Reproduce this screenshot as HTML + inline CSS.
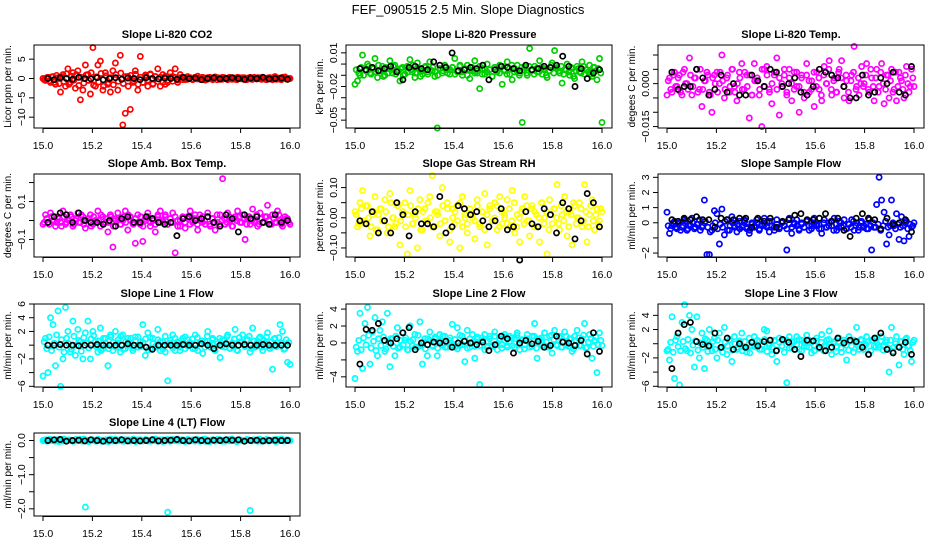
<!DOCTYPE html>
<html><head><meta charset="utf-8"><title>FEF_090515 Slope Diagnostics</title>
<style>
html,body{margin:0;padding:0;background:#fff;}
svg{display:block;font-family:"Liberation Sans",Arial,sans-serif;}
</style></head>
<body>
<svg id="chart" width="936" height="540" viewBox="0 0 936 540">
<text x="468" y="14" text-anchor="middle" font-size="13">FEF_090515  2.5 Min. Slope Diagnostics</text>
</svg>
<script>
// ---- data (some panels stored in scaled units) ----
const xTicks = [15.0, 15.2, 15.4, 15.6, 15.8, 16.0];
const xTickLabels = ["15.0","15.2","15.4","15.6","15.8","16.0"];

const co2Color = [0,-0.5,0.3,-1,0.5,-1.5,0.2,-3.5,1,-2, 2.5,-1,1.5,-2.5,2,-5.5,-3,3.5,1,-4, 8,-2,3.5,4.5,-3,1.5,-1.5,-3.5,2,4, -3,6,-12,-9,0.5,-8,-1,2,-3,5.7, -1,0.5,-2,1,-1.5,0.5,2.5,-2,1,-1.5, -1,1.5,0.5,2.5,-1,1,0.3,-0.3,0.5,0.2, -0.3,0.2,0.6,-0.2,0.3,-0.4,0.2,0.1,-0.3,0.4, 0.2,-0.2,0.3,0,-0.3,0.2,0.1,-0.2,0.3,0, 0.2,-0.3,0.1,0.3,-0.2,0,0.2,-0.1,0.3,-0.2, 0.1,0.2,-0.3,0.5,0,-0.2,0.3,0.4,-0.2,0];
const co2Core = [-0.3,0.2,-0.6,0.4,-1,0.8,-1.3,0.5,-0.8,1.2, -1.5,0.6,-0.4,1,-1.8,0.3,-1.2,0.9,-0.5,1.5, -1.7,0.4,-0.9,1.3,-2,0.7,-1.1,0.2,-1.6,1, -0.7,1.4,-1.3,0.5,-2,0.8,-0.6,1.1,-1.5,0.3, -1,0.9,-0.4,1.2,-1.3,0.5,-0.8,0.3,-1,0.6, -0.5,0.4,-0.7,0.3,-0.4,0.2,-0.3,0.2,-0.2,0.1, -0.2,0.3,-0.1,0.2,-0.3,0.1,-0.2,0.3,-0.1,0.2, -0.3,0.1,-0.2,0.2,-0.1,0.3,-0.2,0.1,-0.3,0.2, -0.1,0.2,-0.3,0.1,-0.2,0.3,-0.1,0.2,-0.2,0.1, -0.3,0.2,-0.1,0.3,-0.2,0.1,-0.3,0.2,-0.1,0];
const co2Black = [0,-0.3,0.2,0,-0.2,0.3,0,-0.1,0.2,-0.3, 0,0.2,-0.2,0.1,0,-0.3,0.2,0,-0.1,0.1, 0,-0.2,0.3,0,0.1,-0.3,0,0.2,-0.1,0, 0.2,0,-0.2,0.1,0,0.3,-0.1,0,0.1,-0.2];

// pressure in 1e-3 kPa per min
const presColor = [-18,-15,-10,8,-5,0,-8,-3,5,-12, -6,-2,-10,-4,3,-8,-1,-6,-15,-3, -9,-2,4,-7,-12,1,-5,-9,-3,-7, 2,-6,-11,-57,-4,-8,-1,-5,-9,-3, 5,-7,-2,-10,-5,-1,-13,-6,3,-8, -22,-4,-9,0,-5,-11,-3,-7,-1,-18, -6,2,-9,-14,-4,-1,-8,-52,-3,-10, 14,-5,-2,-7,3,-9,-4,-12,-6,1, 12,-3,-8,-17,-5,0,-10,-4,-13,-2, -7,2,-9,-5,-1,-11,-3,-14,5,-52];
const presCore = [-5,-8,-3,-10,-6,-2,-9,-4,-7,-1, -6,-11,-3,-8,-5,-2,-9,-6,-4,-10, -3,-7,-5,-1,-8,-4,-11,-6,-2,-9, -5,-3,-7,-10,-4,-6,-2,-8,-5,-3, -9,-6,-1,-7,-4,-10,-5,-3,-8,-6, -2,-9,-4,-7,-5,-11,-3,-6,-8,-2, -5,-9,-4,-1,-7,-6,-10,-3,-5,-8, -2,-6,-9,-4,-7,-3,-5,-10,-6,-1, -8,-4,-6,-2,-9,-5,-7,-3,-11,-6, -4,-8,-2,-5,-7,-9,-3,-6,-4,-8];
const presBlack = [-4,-5,-3,-6,-4,-2,-7,-14,-3,-2, -4,-5,2,-1,-3,10,-6,-5,-3,-4, -1,-14,-5,-2,-3,-4,-6,-1,-5,-4, -2,-3,-1,7,-2,-20,-4,-13,-8,-5];

// Li-820 temp in 1e-3 degC per min
const tempColor = [-4,2,-3,4,-1,3,-4,5,0,9, -4,2,5,-2,-8,1,4,-3,-10,3, 4,0,10,-5,2,-3,5,-1,-6,4, 7,-2,3,-12,-4,7,1,-4,-15,5, 6,-2,-7,3,9,-11,0,5,-4,2, -6,4,-1,-10,3,-5,7,-3,1,-8, 4,-2,-6,6,0,8,-4,2,-3,5, 8,-5,1,-6,3,13,-1,-4,6,0, 7,-3,2,-6,5,-1,7,-7,3,-5, 5,-2,-6,4,1,-5,6,-3,5,-1];
const tempCore = [1,-2,3,-1,2,-3,4,0,-2,3, -1,2,-3,5,-2,1,3,-4,2,0, -3,4,1,-2,3,-1,5,-3,0,2, -2,4,-1,3,-4,1,2,-2,5,-1, 3,-3,0,4,-2,2,-1,3,-3,5, 0,-2,4,-1,2,-3,3,1,-2,4, -1,2,-4,3,0,5,-2,1,-3,4, 2,-1,3,-3,1,4,-2,2,0,-1, 3,-2,5,-1,2,-3,4,0,-2,3, 1,-3,4,-1,2,-2,3,0,-1,2];
const tempBlack = [4,-2,-1,-1,5,2,-4,-2,3,-3, 0,-4,-4,3,1,-1,5,4,-1,0, 2,-3,-4,-1,5,4,3,2,-1,-5, -5,3,-4,-3,2,0,4,-3,-4,6];

// amb box temp in 1e-2 degC per min
const boxColor = [-2,3,-1,4,0,-3,2,-1,5,-2, 1,3,-3,0,4,-1,2,-4,1,3, -2,0,5,-3,2,-1,-6,3,-14,1, 4,-2,0,5,-5,2,-1,-12,3,-2, -11,1,4,-3,0,-6,2,5,-1,3, -2,1,4,-17,-3,0,2,-4,1,5, -1,3,-5,0,2,-2,4,-3,1,-5, -1,3,22,-2,4,0,-3,2,5,-1, 3,-10,1,-2,6,0,-3,4,-1,2, 8,-2,3,-1,5,0,-3,2,1,-2];
const boxCore = [-1,1,-2,2,0,-1,1,-3,2,-1, 0,2,-2,1,-1,3,-2,0,1,-3, 2,-1,0,3,-2,1,-1,2,-3,0, 1,-2,2,-1,3,0,-2,1,-1,2, -3,0,2,-1,1,-2,3,-1,0,2, -2,1,-1,2,0,-3,1,-1,2,-2, 0,1,-2,3,-1,0,2,-2,1,-1, 3,-2,0,1,-1,2,-3,1,0,2, -1,1,-2,2,0,-1,3,-2,1,-1, 2,0,-2,1,-1,3,-2,0,1,-1];
const boxBlack = [-1,2,4,3,-1,4,0,-1,-1,-2, 0,-3,1,2,-1,-1,2,1,-1,-2, -1,-8,1,2,0,1,2,-1,-3,3, 1,-6,3,1,2,-1,-2,3,-1,0];

// RH in 1e-2 percent per min
const rhColor = [2,-3,5,9,-2,4,-6,1,7,-4, 3,-1,6,-5,8,0,-3,4,-9,2, 5,-12,9,-2,1,-10,6,-4,3,-1, 7,14,-3,2,-6,10,-1,5,-8,3, -2,4,-10,7,0,-5,3,1,-7,6, -3,2,8,-9,4,-1,5,-4,7,-2, 0,6,-3,9,-5,1,-8,3,7,-1, -6,4,2,-3,-8,5,0,-12,6,-2, 3,11,-4,1,7,-6,2,-9,4,0, 5,-3,11,-8,1,6,-4,3,-1,2];
const rhCore = [1,-2,3,-1,4,0,-3,2,-4,1, 3,-1,2,-3,5,0,-2,4,-1,2, -3,1,4,-2,0,3,-4,2,-1,5, 0,-3,2,1,-2,4,-1,3,-4,0, 2,-1,5,-3,1,-2,3,0,-1,4, -2,2,-4,1,3,-1,0,4,-3,2, 1,-2,3,-1,5,-3,0,2,-2,4, -1,3,-3,1,0,5,-2,2,-4,1, 3,0,-2,4,-1,2,-3,1,5,-2, 0,3,-1,2,-3,4,-1,1,-2,3];
const rhBlack = [-1,-2,2,-5,-1,-5,5,1,-6,2, -2,-2,-3,7,-5,-3,4,3,1,2, -1,-3,-1,3,-4,-3,-14,2,-2,-3, 3,1,-5,5,3,-7,-1,8,5,-3];

const sampColor = [0.7,-0.7,-0.2,0.1,-0.4,0,-0.3,0.2,-0.5,-0.1, 0.3,-0.4,-0.1,0.2,-0.3,1.5,-2.1,-2.1,-0.5,0.8, 0.6,-1.4,0.9,-0.8,0.2,-0.5,0.4,-0.2,-0.6,0.1, -0.3,0.2,-0.4,-0.7,0,-0.3,0.2,-0.5,-0.1,0.3, -0.2,-0.6,0.1,-0.3,0.2,-0.4,0,-0.2,-1.8,0.3, -0.7,-0.1,0.2,-0.4,0,-0.3,0.1,-0.5,-0.2,0.3, -0.1,-0.4,-0.7,0.2,-0.3,0,-0.2,0.3,-0.5,0.1, -0.3,0.2,-0.4,-0.1,0.2,-0.5,0,-0.3,0.1,-0.2, -0.4,0.2,-1.8,-0.3,1.2,3,1.5,0.7,-1.4,-0.8, 1.5,-0.2,0.6,-1.1,0.4,-1.2,0.1,-0.9,-0.3,0];
const sampCore = [-0.2,-0.4,0,-0.3,-0.1,-0.5,-0.2,0.1,-0.4,-0.2, 0,-0.3,-0.1,-0.5,-0.2,0.1,-0.3,-0.6,-0.2,0, -0.4,-0.1,-0.3,0.1,-0.5,-0.2,0,-0.3,-0.1,-0.4, -0.2,0.1,-0.3,-0.5,-0.1,-0.2,0,-0.4,-0.2,-0.1, -0.3,0.1,-0.2,-0.5,-0.1,-0.3,0,-0.2,-0.4,-0.1, -0.3,0,-0.2,-0.5,-0.1,-0.3,0.1,-0.2,-0.4,0, -0.2,-0.1,-0.4,0,-0.3,-0.2,0.1,-0.5,-0.1,-0.3, 0,-0.2,-0.4,-0.1,-0.3,0.1,-0.2,-0.5,0,-0.3, -0.1,-0.4,-0.2,0,-0.3,-0.1,-0.5,-0.2,0.1,-0.3, -0.2,0,-0.4,-0.1,-0.3,-0.2,0,-0.4,-0.1,-0.2];
const sampBlack = [0.2,0.1,0.3,0.2,0.4,0.2,0.2,-0.3,0.3,0.2, 0.2,0.3,0.3,-0.3,0.3,0.1,0.3,-0.3,0.1,0.2, 0.5,0.6,0.2,0.2,0.3,0.6,0.1,0.3,-0.5,-0.9, 0.3,0.6,0.3,0.2,-0.4,0.3,-0.1,0,0.2,-0.6];

const l1Color = [-4.5,1,-4,4,3,-3,5,-6,-2,5.5, 2,-1,3.5,-1.5,2.3,0.5,-2,1.8,3.5,-2, 2,0.5,-1,2.5,-0.5,1,-3,1.5,-0.8,2, 0.3,-1,1.5,-0.5,1,0.3,-0.8,1.2,-0.3,0.5, 3,-1.5,1.8,-0.5,1,-0.2,2.3,-0.8,0.5,-1, -5.2,0.3,1.5,-0.8,0.5,-0.3,1,-0.5,0.8,0.2, -0.5,1.5,-0.8,0.3,-1.2,0.5,2,-0.3,1,-0.8, 0.2,-1.8,0.8,-0.3,1.5,-0.5,0.3,2.3,-0.8,0.5, 1.5,-0.2,0.8,-1,2.5,-0.3,0.5,1.2,-0.8,0.3, 1.8,-0.5,-3.5,1,0.3,3,2,-0.5,-2.5,-2.8];
const l1Core = [0.5,-0.5,1.2,-0.8,0.3,1.5,-0.3,0.8,-1,1, 0.2,-0.6,1.3,0,0.7,-0.9,1.1,0.3,-0.4,0.9, 1.4,-0.2,0.6,-0.8,1,0.2,-0.5,1.2,0.4,-0.3, 0.8,1.3,-0.6,0.5,0,1,-0.4,0.7,1.2,-0.2, 0.4,0.9,-0.7,1.1,0.2,-0.3,0.8,0.5,-0.6,1.3, 0.1,0.7,-0.4,1,0.3,-0.8,0.6,1.2,-0.1,0.4, 0.9,-0.5,1.1,0.2,0.6,-0.3,1.3,0,0.8,-0.6, 0.5,1,-0.2,0.7,1.2,-0.4,0.3,0.9,-0.7,1.1, 0.4,-0.1,0.8,1.3,-0.5,0.6,0.2,1,-0.3,0.7, 1.2,-0.4,0.5,0.9,-0.2,1.1,0.3,-0.6,0.8,0.4];
const l1Black = [0,0,0.1,0,0,-0.1,0,0,0.1,0, 0,0,0,0.2,0,0,-0.3,-0.6,0,0, 0,0,0.1,0,0,0.2,0,-0.5,0,0.2, 0,0,0.1,0,0,0.1,0,0,0,0];

const l2Color = [-4.2,-1,3.5,-3,2.3,4.2,-2.5,1.3,3,-1.5, 1.5,2.5,-1,3.5,-2.8,0.5,-1.5,1.8,-0.5,1.2, 0.3,-0.8,2,-0.3,1,-0.5,2.5,-2.5,0.5,-1.5, 1.3,-0.3,0.5,-1.5,1,-0.2,0.8,-0.5,0.3,2.2, -0.5,1.8,-0.3,0.8,-2.2,1.5,-0.5,1,-1.8,0.5, -4.9,0.3,1,-0.5,0.8,-0.3,1.3,-0.8,0.5,-0.2, 1,-0.5,0.8,-0.3,0.5,1.2,-0.8,0.3,-0.2,1, -0.5,0.8,2.3,-1.8,0.5,-0.3,1.2,-0.5,0.8,-1.2, 1.5,-0.3,0.8,-0.5,1.3,-0.2,0.5,-1,0.8,1.5, -0.3,0.5,2.3,-0.5,1,-1.8,0.3,-3.5,1.2,-0.3];
const l2Core = [-0.5,0.3,-0.8,0.6,-0.2,0.9,-0.6,0.2,-0.9,0.5, -0.3,0.7,-0.7,0.1,0.5,-0.4,0.8,-0.6,0.3,-0.2, 0.6,-0.8,0.2,0.4,-0.5,0.9,-0.3,0.1,-0.7,0.5, 0.3,-0.4,0.7,-0.6,0.2,0.8,-0.5,0,0.6,-0.3, 0.4,-0.7,0.9,-0.2,0.3,-0.6,0.5,0.1,-0.4,0.7, -0.3,0.6,-0.8,0.2,0.5,-0.4,0.8,-0.2,0.3,-0.6, 0.7,-0.3,0.1,0.6,-0.5,0.9,-0.2,0.4,-0.7,0.5, 0.2,-0.4,0.8,-0.6,0.3,0.6,-0.3,0.1,-0.5,0.9, 0.4,-0.2,0.7,-0.5,0.2,0.8,-0.4,0.5,-0.7,0.3, 0.6,-0.3,0.9,-0.6,0.1,0.5,-0.4,0.7,-0.2,0.3];
const l2Black = [-2.5,1.6,1.5,2.3,0.3,0,0.5,1.2,1.8,-0.8, 0,-0.2,0.1,0,0.2,-0.5,0,0.2,0,-0.2, 0.1,-0.9,-0.2,0.8,0.5,-1.2,0,0.3,-0.1,0.2, -0.5,-0.3,0.8,0.1,0,-0.3,0.3,-1.3,1.2,-1];

const l3Color = [-1,-2.3,3.8,-4.9,1,-5.8,3,5.5,-1,4, 2,-3.3,3.8,-2,1.5,-3.5,0.5,2,-1,0.8, -2,1.5,-0.5,2.3,-1.5,0.5,-2.5,1,-0.8,0.3, 1.5,-0.5,-1.2,0.8,-0.3,1,-0.5,0.3,-0.8,2, 1.8,-0.3,-1.5,0.5,-2.5,0.8,-0.3,0.5,-5.5,1, -0.5,0.3,1,-0.8,0.5,-0.3,1.2,-0.5,0.3,-1, 0.8,-0.5,1.3,-0.3,0.5,1.8,-1.5,0.3,-0.5,0.8, -1.2,0.5,-2.3,1,-0.3,0.5,2.3,-0.8,0.5,-0.3, 1,-1.5,0.5,-0.3,0.8,-0.5,1,-0.3,0.5,-4, 2.3,-0.5,1,-3,0.3,-1.5,0.8,-0.3,-2.5,0.5];
const l3Core = [-0.8,0.2,-1.2,0.5,-0.4,-1,0.3,-0.7,0.6,-1.3, -0.2,0.4,-0.9,0.1,-0.5,0.7,-1.1,-0.3,0.3,-0.8, 0.5,-0.6,-1.2,0.2,-0.3,0.6,-0.9,0,-0.5,0.4, -1,0.3,-0.6,-1.3,0.1,-0.4,0.5,-0.8,-0.2,0.6, -1.1,0,-0.5,0.4,-0.9,0.2,-0.3,-1.2,0.5,-0.6, 0.3,-0.8,-0.1,0.6,-1,0.1,-0.4,0.5,-1.3,-0.2, 0.4,-0.7,0.2,-1,-0.3,0.6,-0.5,0,-1.1,0.3, -0.6,0.5,-0.2,-0.9,0.4,-1.2,0.1,-0.4,0.6,-0.8, -0.1,0.3,-1,0.5,-0.5,-0.2,0.4,-0.9,0.2,-0.6, 0.5,-1.1,0,-0.4,0.3,-0.8,0.6,-0.3,-1,0.2];
const l3Black = [-3.5,1.5,2.7,3,0.3,-0.1,-0.3,1.5,-0.5,0.8, -0.8,0,-0.5,0.2,-0.3,0.3,0.5,-1,0.6,0.2, -0.8,-1.8,0.5,0.4,-0.5,-1,-0.5,0.8,0.1,0.5, 0.3,-0.5,-1.5,0.8,1.5,-0.8,-1.3,-0.5,0.2,-1.5];

const l4Color = [0,0.02,-0.01,0.03,0,-0.02,0.01,0.03,-0.01,0.02, 0,0.01,-0.02,0.02,0,0.03,-0.01,-1.95,0.01,0, 0.02,-0.01,0.03,0,0.01,-0.02,0.02,0,-0.01,0.03, 0.01,0,-0.02,0.02,0.01,-0.01,0.03,0,0.02,-0.01, 0,0.02,-0.01,0.01,0.03,0,-0.02,0.01,0.02,-0.01, -2.1,0.01,0.03,0,-0.01,0.02,0.01,-0.02,0.03,0, 0.01,-0.01,0.02,0,0.03,-0.02,0.01,0,0.02,-0.01, 0.03,0,0.01,-0.02,0.02,0.03,0,-0.01,0.01,0.02, 0,-0.01,0.02,-2.05,0.01,0,-0.02,0.03,0.01,-0.01, 0.02,0,0.01,-0.02,0.03,0,0.01,-0.01,0.02,0];
const l4Core = [0.01,-0.02,0.03,0,-0.01,0.02,-0.03,0.01,0.04,-0.01, 0.02,0,-0.02,0.03,0.01,-0.01,0.04,0,-0.03,0.02, 0.01,-0.02,0.03,-0.01,0,0.02,-0.03,0.04,0.01,-0.01, 0,0.03,-0.02,0.01,0.02,-0.01,0.04,-0.03,0,0.02, -0.01,0.03,0.01,-0.02,0,0.04,-0.01,0.02,-0.03,0.01, 0.03,-0.02,0,0.01,0.04,-0.01,0.02,-0.03,0.01,0, 0.02,-0.01,0.03,-0.02,0.01,0.04,0,-0.03,0.02,-0.01, 0.01,0.03,-0.02,0,0.02,-0.01,0.04,0.01,-0.03,0.02, 0,-0.02,0.03,0.01,-0.01,0.02,0,0.04,-0.02,0.01, 0.03,-0.01,0,0.02,-0.03,0.01,0.04,-0.01,0.02,0];
const l4Black = [0,0.02,0.03,-0.02,0,0.01,-0.01,0.02,0,-0.02, 0.01,0,0.02,-0.01,0,-0.01,0,0.02,-0.01,0, 0.01,0.03,0,-0.01,0.02,0,-0.01,0.01,0,0.02, 0.01,0.02,-0.02,0,0.01,-0.01,0,0.01,0,0];

// ---- panel config ----
const panels = [
 {name:"co2", title:"Slope Li-820 CO2", ylab:"Licor ppm per min.", col:0,row:0, color:"#ff0000", c:co2Color, k:co2Core, b:co2Black, dom:[-12.8,8.66], ticks:[-10,-5,0,5], tl:["\u221210","\u22125","0","5"]},
 {name:"pressure", title:"Slope Li-820 Pressure", ylab:"kPa per min.", col:1,row:0, color:"#00cd00", c:presColor, k:presCore, b:presBlack, dom:[-57,17], ticks:[10,0,-10,-20,-30,-40,-50], tl:["0.01","","","\u22120.02","","","\u22120.05"]},
 {name:"li820-temp", title:"Slope Li-820 Temp.", ylab:"degees C per min.", col:2,row:0, color:"#ff00ff", c:tempColor, k:tempCore, b:tempBlack, dom:[-15.5,13.5], ticks:[10,5,0,-5,-10,-15], tl:["","","0.000","","","\u22120.015"]},
 {name:"amb-box-temp", title:"Slope Amb. Box Temp.", ylab:"degrees C per min.", col:0,row:1, color:"#ff00ff", c:boxColor, k:boxCore, b:boxBlack, dom:[-19.2,24.5], ticks:[20,10,0,-10], tl:["","0.1","","\u22120.1"]},
 {name:"gas-rh", title:"Slope Gas Stream RH", ylab:"percent per min.", col:1,row:1, color:"#ffff00", c:rhColor, k:rhCore, b:rhBlack, dom:[-13,14.5], ticks:[10,5,0,-5,-10], tl:["0.10","","0.00","","\u22120.10"]},
 {name:"sample-flow", title:"Slope Sample Flow", ylab:"ml/min per min.", col:2,row:1, color:"#0000ff", c:sampColor, k:sampCore, b:sampBlack, dom:[-2.26,3.22], ticks:[-2,-1,0,1,2,3], tl:["\u22122","","0","1","2","3"]},
 {name:"line1-flow", title:"Slope Line 1 Flow", ylab:"ml/min per min.", col:0,row:2, color:"#00ffff", c:l1Color, k:l1Core, b:l1Black, dom:[-6.1,6.0], ticks:[-6,-4,-2,0,2,4,6], tl:["\u22126","","\u22122","","2","4","6"]},
 {name:"line2-flow", title:"Slope Line 2 Flow", ylab:"ml/min per min.", col:1,row:2, color:"#00ffff", c:l2Color, k:l2Core, b:l2Black, dom:[-5.2,4.6], ticks:[-4,-2,0,2,4], tl:["\u22124","","0","2","4"]},
 {name:"line3-flow", title:"Slope Line 3 Flow", ylab:"ml/min per min.", col:2,row:2, color:"#00ffff", c:l3Color, k:l3Core, b:l3Black, dom:[-6.1,5.6], ticks:[-6,-4,-2,0,2,4], tl:["\u22126","","\u22122","","2","4"]},
 {name:"line4-flow", title:"Slope Line 4 (LT) Flow", ylab:"ml/min per min.", col:0,row:3, color:"#00ffff", c:l4Color, k:l4Core, b:l4Black, dom:[-2.21,0.22], ticks:[0,-0.5,-1,-1.5,-2], tl:["0.0","","\u22121.0","","\u22122.0"]}
];

const NS = "http://www.w3.org/2000/svg";
const svg = document.getElementById("chart");
const colLeft = [34, 346, 658];
const rowTop = [45, 174, 304, 433];
const BW = 266, BH = 83;

function mk(tag, attrs, parent) {
  const e = document.createElementNS(NS, tag);
  for (const k in attrs) e.setAttribute(k, attrs[k]);
  parent.appendChild(e);
  return e;
}

panels.forEach(p => {
  const L = colLeft[p.col], T = rowTop[p.row];
  const xs = v => L + 9 + (v - 15) * 247;
  const ys = v => T + BH - (v - p.dom[0]) / (p.dom[1] - p.dom[0]) * BH;
  const g = mk("g", {}, svg);
  
  

  const t = mk("text", {x: L + BW/2, y: T - 7, "text-anchor":"middle", "font-size":"11", "font-weight":"bold"}, g);
  t.textContent = p.title;
  
  

  const pts = mk("g", {fill:"none", "stroke-width":"1.7"}, g);
  
  
  const nK = p.k.length;
  p.k.forEach((v, i) => {
    const x = 15 + (i + 0.5) / nK;
    const c = mk("circle", {cx: xs(x).toFixed(1), cy: ys(v).toFixed(1), r: 2.6, stroke: p.color}, pts);
    
    
  });
  const nC = p.c.length;
  p.c.forEach((v, i) => {
    const x = 15 + i / (nC - 1);
    const c = mk("circle", {cx: xs(x).toFixed(1), cy: ys(v).toFixed(1), r: 2.6, stroke: p.color}, pts);
    
    
  });
  const nB = p.b.length;
  p.b.forEach((v, i) => {
    const x = 15.02 + i * 0.97 / (nB - 1);
    const c = mk("circle", {cx: xs(x).toFixed(1), cy: ys(v).toFixed(1), r: 2.6, stroke: "#000"}, pts);
    
    
  });

  const box = mk("rect", {x: L, y: T, width: BW, height: BH, fill:"none", stroke:"#000", "stroke-width":"1"}, g);
  
  

  const xa = mk("g", {}, g);
  
  
  mk("line", {x1: xs(15), x2: xs(16), y1: T+BH+0.5, y2: T+BH+0.5, stroke:"#000"}, xa);
  xTicks.forEach((v, i) => {
    mk("line", {x1: xs(v), x2: xs(v), y1: T+BH, y2: T+BH+5, stroke:"#000"}, xa);
    const tx = mk("text", {x: xs(v), y: T+BH+21, "text-anchor":"middle", "font-size":"10.5"}, xa);
    tx.textContent = xTickLabels[i];
  });

  const ya = mk("g", {}, g);
  
  
  p.ticks.forEach((v, i) => {
    const y = ys(v);
    mk("line", {x1: L-5, x2: L, y1: y, y2: y, stroke:"#000"}, ya);
    if (p.tl[i]) {
      const tx = mk("text", {x: 0, y: 0, "text-anchor":"middle", "font-size":"10.5", transform:`translate(${L-9},${y}) rotate(-90)`}, ya);
      tx.textContent = p.tl[i];
    }
  });
  const yt = mk("text", {x:0, y:0, "text-anchor":"middle", "font-size":"10", transform:`translate(${L-23},${T+BH/2}) rotate(-90)`}, g);
  yt.textContent = p.ylab;
  
  
});
</script>
</body></html>
